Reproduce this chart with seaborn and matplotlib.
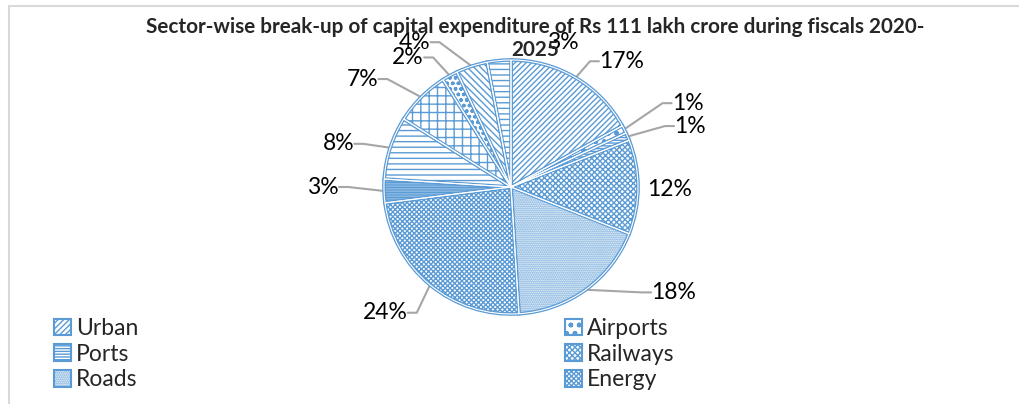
import numpy as np
import matplotlib
matplotlib.use("Agg")
import matplotlib.pyplot as plt
from matplotlib.patches import Rectangle
from matplotlib.lines import Line2D
import seaborn as sns

# sector shares (percent), clockwise from 12 o'clock
sectors = ["Urban", "Airports", "Ports", "Railways", "Roads", "Energy",
           "Telecom", "Irrigation", "Rural", "Agriculture", "Social", "Industrial"]
shares = [17, 1, 1, 12, 18, 24, 3, 8, 7, 2, 4, 3]
legend_shown = 6  # only the first six entries fit in the legend box

title_line1 = "Sector-wise break-up of capital expenditure of Rs 111 lakh crore during fiscals 2020-"
title_line2 = "2025"

# layout: label centres in pie-radius units, hatch patterns per slice
label_xy = [(0.87, 0.99), (1.39, 0.66), (1.41, 0.48), (1.25, -0.02), (1.28, -0.83),
            (-0.99, -0.99), (-1.48, 0.00), (-1.36, 0.34), (-1.17, 0.85), (-0.81, 1.02),
            (-0.76, 1.14), (0.41, 1.14)]
hatches = ["//////", "oo..", "------", "xxxxxx", "........", "xxxxxxx",
           "----------", "---", "++", "ooo", "\\\\\\\\\\", "---"]

sns.set_theme(style="white")
plt.rcParams["font.family"] = ["Lato", "Open Sans", "DejaVu Sans"]
plt.rcParams["hatch.linewidth"] = 1.0

blue = "#5B9BD5"
grey = "#A6A6A6"

W, H = 1019, 404
fig = plt.figure(figsize=(W / 100, H / 100), dpi=100)

cx, cy, R = 511, 217, 127   # pie centre and radius in pixels (y from bottom)
aw, ah = 420, 320
ax = fig.add_axes([(cx - aw / 2) / W, (cy - ah / 2) / H, aw / W, ah / H])

wedges, _ = ax.pie(shares, startangle=90, counterclock=False, radius=1,
                   wedgeprops=dict(facecolor="white", edgecolor=blue, linewidth=2.6))
for w, h in zip(wedges, hatches):
    w.set_hatch(h)
# inner white line to give the double outline look
ax.pie(shares, startangle=90, counterclock=False, radius=1,
       wedgeprops=dict(fill=False, edgecolor="white", linewidth=0.8))
ax.set_xlim(-aw / 2 / R, aw / 2 / R)
ax.set_ylim(-ah / 2 / R, ah / 2 / R)
ax.set_aspect("equal")
ax.axis("off")

# percentage labels with leader lines
for w, v, (tx, ty) in zip(wedges, shares, label_xy):
    txt = f"{v}%"
    ax.text(tx, ty, txt, ha="center", va="center", fontsize=16.5, color="black",
            clip_on=False)
    if np.hypot(tx, ty) > 1.3:
        mid = np.deg2rad((w.theta1 + w.theta2) / 2)
        px, py = np.cos(mid), np.sin(mid)
        s = 1 if tx > 0 else -1
        hw = (len(txt) * 6.5 + 3) / R
        ex = tx - s * hw
        bx = ex - s * 9 / R
        ax.plot([px, bx, ex], [py, ty, ty], color=grey, lw=1.5,
                clip_on=False, zorder=0.5)

fig.text(535 / W, 1 - 27 / H, title_line1, ha="center", va="center",
         fontsize=14.9, fontweight="bold")
fig.text(535 / W, 1 - 50 / H, title_line2, ha="center", va="center",
         fontsize=14.9, fontweight="bold")

# legend in two columns, filled row by row
handles = [Rectangle((0, 0), 1, 1, facecolor="white", edgecolor=blue,
                     hatch=h, linewidth=1.5) for h in hatches[:legend_shown]]
names = sectors[:legend_shown]
for col, x0 in enumerate([54, 565]):
    fig.legend(handles[col::2], names[col::2], loc="upper left",
               bbox_to_anchor=(x0 / W, 1 - 318 / H), frameon=False,
               fontsize=16.5, handlelength=0.75, handleheight=0.75,
               handletextpad=0.2, labelspacing=0.2, borderpad=0,
               borderaxespad=0)

# chart area border (left and top edges visible)
bx0, by0 = 9 / W, 1 - 6 / H
fig.add_artist(Line2D([bx0, bx0], [0, by0], color="#D9D9D9", lw=1.5))
fig.add_artist(Line2D([bx0, 1], [by0, by0], color="#D9D9D9", lw=1.5))

fig.savefig("out.png", dpi=100)
